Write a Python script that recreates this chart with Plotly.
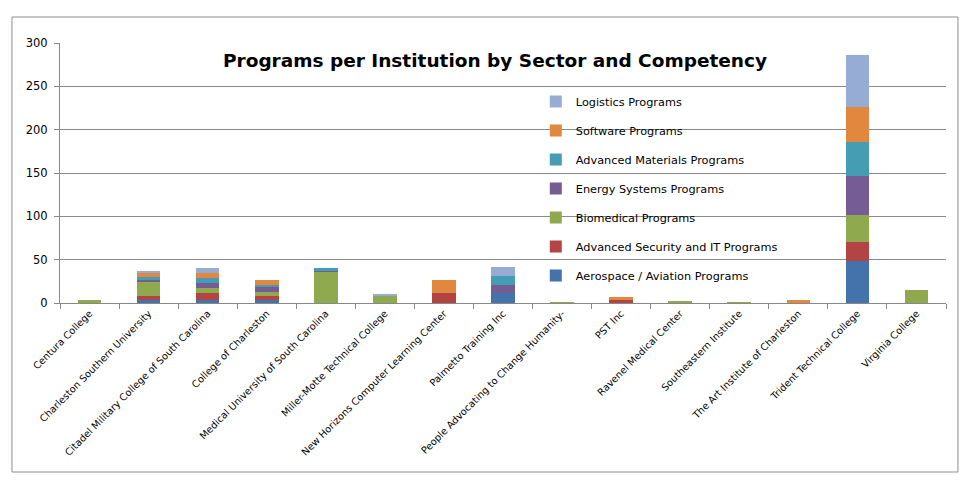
import plotly.graph_objects as go

institutions = [
    "Centura College",
    "Charleston Southern University",
    "Citadel Military College of South Carolina",
    "College of Charleston",
    "Medical University of South Carolina",
    "Miller-Motte Technical College",
    "New Horizons Computer Learning Center",
    "Palmetto Training Inc",
    "People Advocating to Change Humanity-",
    "PST Inc",
    "Ravenel Medical Center",
    "Southeastern Institute",
    "The Art Institute of Charleston",
    "Trident Technical College",
    "Virginia College",
]

aerospace = [0, 4, 4, 4, 0, 0, 0, 11, 0, 0, 0, 0, 0, 48, 0]
security = [0, 4, 7, 4, 0, 0, 12, 0, 0, 3, 0, 0, 0, 22, 0]
biomedical = [3, 17, 6, 5, 36, 9, 0, 0, 1, 0, 2, 1, 0, 32, 15]
energy = [0, 2, 6, 5, 2, 0, 0, 10, 0, 0, 0, 0, 0, 44, 0]
materials = [0, 3, 6, 3, 2, 0, 0, 10, 0, 0, 0, 0, 0, 40, 0]
software = [0, 5, 6, 6, 0, 0, 14, 0, 0, 4, 0, 0, 4, 40, 0]
logistics = [0, 2, 5, 0, 0, 1, 0, 11, 0, 0, 0, 0, 0, 60, 0]

series = [
    ("Aerospace / Aviation Programs", aerospace, "#4473AB"),
    ("Advanced Security and IT Programs", security, "#B24543"),
    ("Biomedical Programs", biomedical, "#8EA94E"),
    ("Energy Systems Programs", energy, "#755C94"),
    ("Advanced Materials Programs", materials, "#449DB3"),
    ("Software Programs", software, "#E2873E"),
    ("Logistics Programs", logistics, "#97ACD4"),
]

font_family = "DejaVu Sans, sans-serif"

fig = go.Figure()
n = len(series)
for i, (name, vals, color) in enumerate(series):
    fig.add_trace(go.Bar(
        x=institutions, y=vals, name=name,
        marker=dict(color=color, line=dict(width=0)),
        legendgroup=name,
        legendrank=n - i,
    ))

fig.update_layout(
    width=970, height=499,
    barmode="stack",
    bargap=0.6,
    paper_bgcolor="white",
    plot_bgcolor="white",
    margin=dict(l=52, r=32, t=35, b=204),
    font=dict(family=font_family, color="#000000"),
    showlegend=True,
    legend=dict(
        x=0.537, y=0.831, xanchor="left", yanchor="top",
        traceorder="grouped", bgcolor="rgba(0,0,0,0)",
        font=dict(size=11.3, family=font_family),
        tracegroupgap=10, itemwidth=30,
    ),
    title=dict(
        text="<b>Programs per Institution by Sector and Competency</b>",
        x=0.491, xref="paper", xanchor="center",
        y=0.934, yref="paper", yanchor="middle",
        font=dict(size=18.5, family=font_family, color="#000000"),
    ),
    xaxis=dict(
        type="category",
        tickangle=-45,
        tickfont=dict(size=9.8, family=font_family),
        showline=True, linecolor="#888888", linewidth=1,
        ticks="outside", tickson="boundaries", ticklen=5, tickcolor="#888888",
        showgrid=False,
    ),
    yaxis=dict(
        range=[0, 300], dtick=50,
        showgrid=True, gridcolor="#8a8a8a", gridwidth=1,
        showline=True, linecolor="#888888", linewidth=1,
        ticks="outside", ticklen=5, tickcolor="#888888",
        tickfont=dict(size=11.5, family=font_family),
        ticklabelstandoff=4,
        zeroline=False,
    ),
    shapes=[dict(
        type="rect", xref="paper", yref="paper",
        x0=-0.0542, x1=1.0135, y0=-0.65, y1=1.1,
        line=dict(color="#8c8c8c", width=1), fillcolor="rgba(0,0,0,0)",
        layer="below",
    )],
)

fig.write_html("out.html")
